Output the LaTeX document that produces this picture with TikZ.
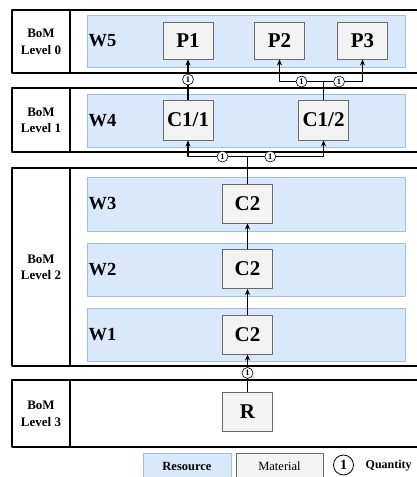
\documentclass[tikz,border=0pt]{standalone}
\usepackage{fontspec}
\setmainfont{Liberation Serif}
\usetikzlibrary{arrows.meta}
\definecolor{resfill}{HTML}{DAE8FC}
\definecolor{resline}{HTML}{A3BFE6}
\definecolor{matfill}{HTML}{F3F3F3}
\definecolor{matline}{HTML}{6A6A6A}
\tikzset{
  band/.style={line width=1.5pt},
  resource/.style={draw=resline, fill=resfill, line width=1pt, minimum width=318pt, minimum height=53pt, inner sep=0pt},
  material/.style={draw=matline, fill=matfill, line width=0.9pt, minimum width=50pt, minimum height=39pt, inner sep=0pt, font=\fontsize{21}{24}\selectfont\bfseries},
  level/.style={align=center, font=\fontsize{13}{16.5}\selectfont\bfseries},
  wlabel/.style={anchor=west, inner sep=0pt, font=\fontsize{18.5}{20}\selectfont\bfseries},
  qty/.style={circle, draw, fill=white, line width=0.6pt, inner sep=0pt, minimum size=11pt, font=\fontsize{8.5}{9}\selectfont\bfseries},
}
\begin{document}
\begin{tikzpicture}[x=1pt, y=-1pt, line join=round, >={Stealth[length=6pt, width=5pt]}]
  \useasboundingbox (0,0) rectangle (417,477);
  % BoM levels
  \draw[band] (417,10) -| (12,73) -- (417,73);
  \draw[band] (70,10) -- (70,73);
  \node[level] (lv0) at (41,42) {BoM\\Level 0};
  \draw[band] (417,88) -| (12,152) -- (417,152);
  \draw[band] (70,88) -- (70,152);
  \node[level] (lv1) at (41,120.5) {BoM\\Level 1};
  \draw[band] (417,168) -| (12,366) -- (417,366);
  \draw[band] (70,168) -- (70,366);
  \node[level] (lv2) at (41,267.5) {BoM\\Level 2};
  \draw[band] (417,380) -| (12,447) -- (417,447);
  \draw[band] (70,380) -- (70,447);
  \node[level] (lv3) at (41,414) {BoM\\Level 3};
  % resources
  \node[resource, minimum height=52pt] (w5) at (246,41) {};
  \node[wlabel] at ([xshift=2pt]w5.west) {W5};
  \node[resource] (w4) at (246,120.5) {};
  \node[wlabel] at ([xshift=2pt]w4.west) {W4};
  \node[resource, minimum height=54pt] (w3) at (246,204) {};
  \node[wlabel] at ([xshift=2pt]w3.west) {W3};
  \node[resource] (w2) at (246,269.5) {};
  \node[wlabel] at ([xshift=2pt]w2.west) {W2};
  \node[resource] (w1) at (246,334.5) {};
  \node[wlabel] at ([xshift=2pt]w1.west) {W1};
  % materials
  \node[material, minimum height=37pt] (p1) at (188,40.5) {P1};
  \node[material, minimum height=37pt] (p2) at (279.5,40.5) {P2};
  \node[material, minimum height=37pt] (p3) at (362.5,40.5) {P3};
  \node[material, minimum height=40pt] (c11) at (188,120) {C1/1};
  \node[material, minimum height=40pt] (c12) at (323.5,120) {C1/2};
  \node[material] (c2c) at (247.5,203.5) {C2};
  \node[material] (c2b) at (247.5,269) {C2};
  \node[material] (c2a) at (247.5,334.5) {C2};
  \node[material] (r) at (247.5,411.5) {R};
  % connectors
  \begin{scope}[line width=1.1pt]
    \draw[->] (c11) -- (p1) node[qty, midway]{1};
    \draw (c12.north) -- ++(0,-18) coordinate (j1);
    \draw[->] (j1) -| (p2) node[qty, pos=.25]{1};
    \draw[->] (j1) -| (p3) node[qty, pos=.2]{1};
    \draw (c2c.north) -- ++(0,-27) coordinate (j2);
    \draw[->] (j2) -| (c11) node[qty, pos=.21]{1};
    \draw[->] (j2) -| (c12) node[qty, pos=.15]{1};
    \draw[->] (c2b) -- (c2c);
    \draw[->] (c2a) -- (c2b);
    \draw[->] (r) -- (c2a) node[qty, midway]{1};
  \end{scope}
  % legend
  \node[resource, minimum width=88pt, minimum height=26pt, font=\fontsize{12.5}{14}\selectfont\bfseries] (legres) at (187,466.5) {Resource};
  \node[material, minimum width=87pt, minimum height=26pt, font=\fontsize{12.5}{14}\selectfont] (legmat) at (279.5,466.5) {Material};
  \node[qty, minimum size=20pt, line width=0.8pt, font=\fontsize{14}{14}\selectfont\bfseries] (legqty) at (343.5,465) {1};
  \node[anchor=west, inner sep=0pt, font=\fontsize{12}{14}\selectfont\bfseries] (legtxt) at (365.5,465.5) {Quantity};
\end{tikzpicture}
\end{document}
